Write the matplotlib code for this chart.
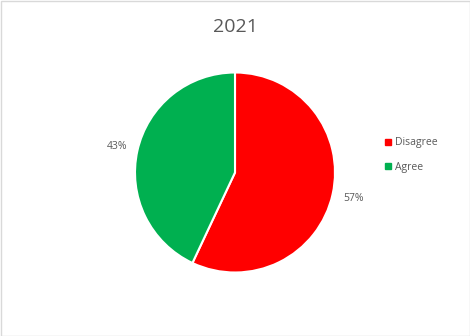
import matplotlib
matplotlib.use("Agg")
import matplotlib.pyplot as plt
from matplotlib.patches import Rectangle
from matplotlib.lines import Line2D

title = "2021"
categories = ["Disagree", "Agree"]
values = [57, 43]
colors = ["#FF0000", "#00B050"]

plt.rcParams['font.family'] = ['Open Sans', 'DejaVu Sans']
txt = "#595959"

fig = plt.figure(figsize=(4.7, 3.36), dpi=100)
fig.patches.append(Rectangle((0.5/470, 0.5/336), 1 - 1/470, 1 - 1/336, transform=fig.transFigure,
                             fill=False, edgecolor="#D9D9D9", linewidth=1))

ax = fig.add_axes([(235 - 100) / 470, (336 - 272.5) / 336, 200 / 470, 200 / 336])
wedges, texts, autotexts = ax.pie(values, colors=colors, startangle=90, counterclock=False,
                                  autopct=lambda p: f"{p:.0f}%", pctdistance=1.21,
                                  wedgeprops=dict(edgecolor="white", linewidth=1.5),
                                  textprops=dict(color=txt, fontsize=7.5))
ax.set_aspect("equal")
ax.set_xlim(-1, 1)
ax.set_ylim(-1, 1)

fig.text(0.5, 1 - 27 / 336, title, ha="center", va="center", fontsize=14, color=txt)

handles = [Line2D([], [], marker="s", linestyle="none", markersize=5, markerfacecolor=c,
                  markeredgecolor=c) for c in colors]
fig.legend(handles, categories, loc="center left", bbox_to_anchor=(374 / 470, 1 - 155 / 336),
           frameon=False, fontsize=7.5, labelcolor=txt, handlelength=0.8, handletextpad=0.3,
           labelspacing=1.3)

fig.savefig("out.png", dpi=100)
